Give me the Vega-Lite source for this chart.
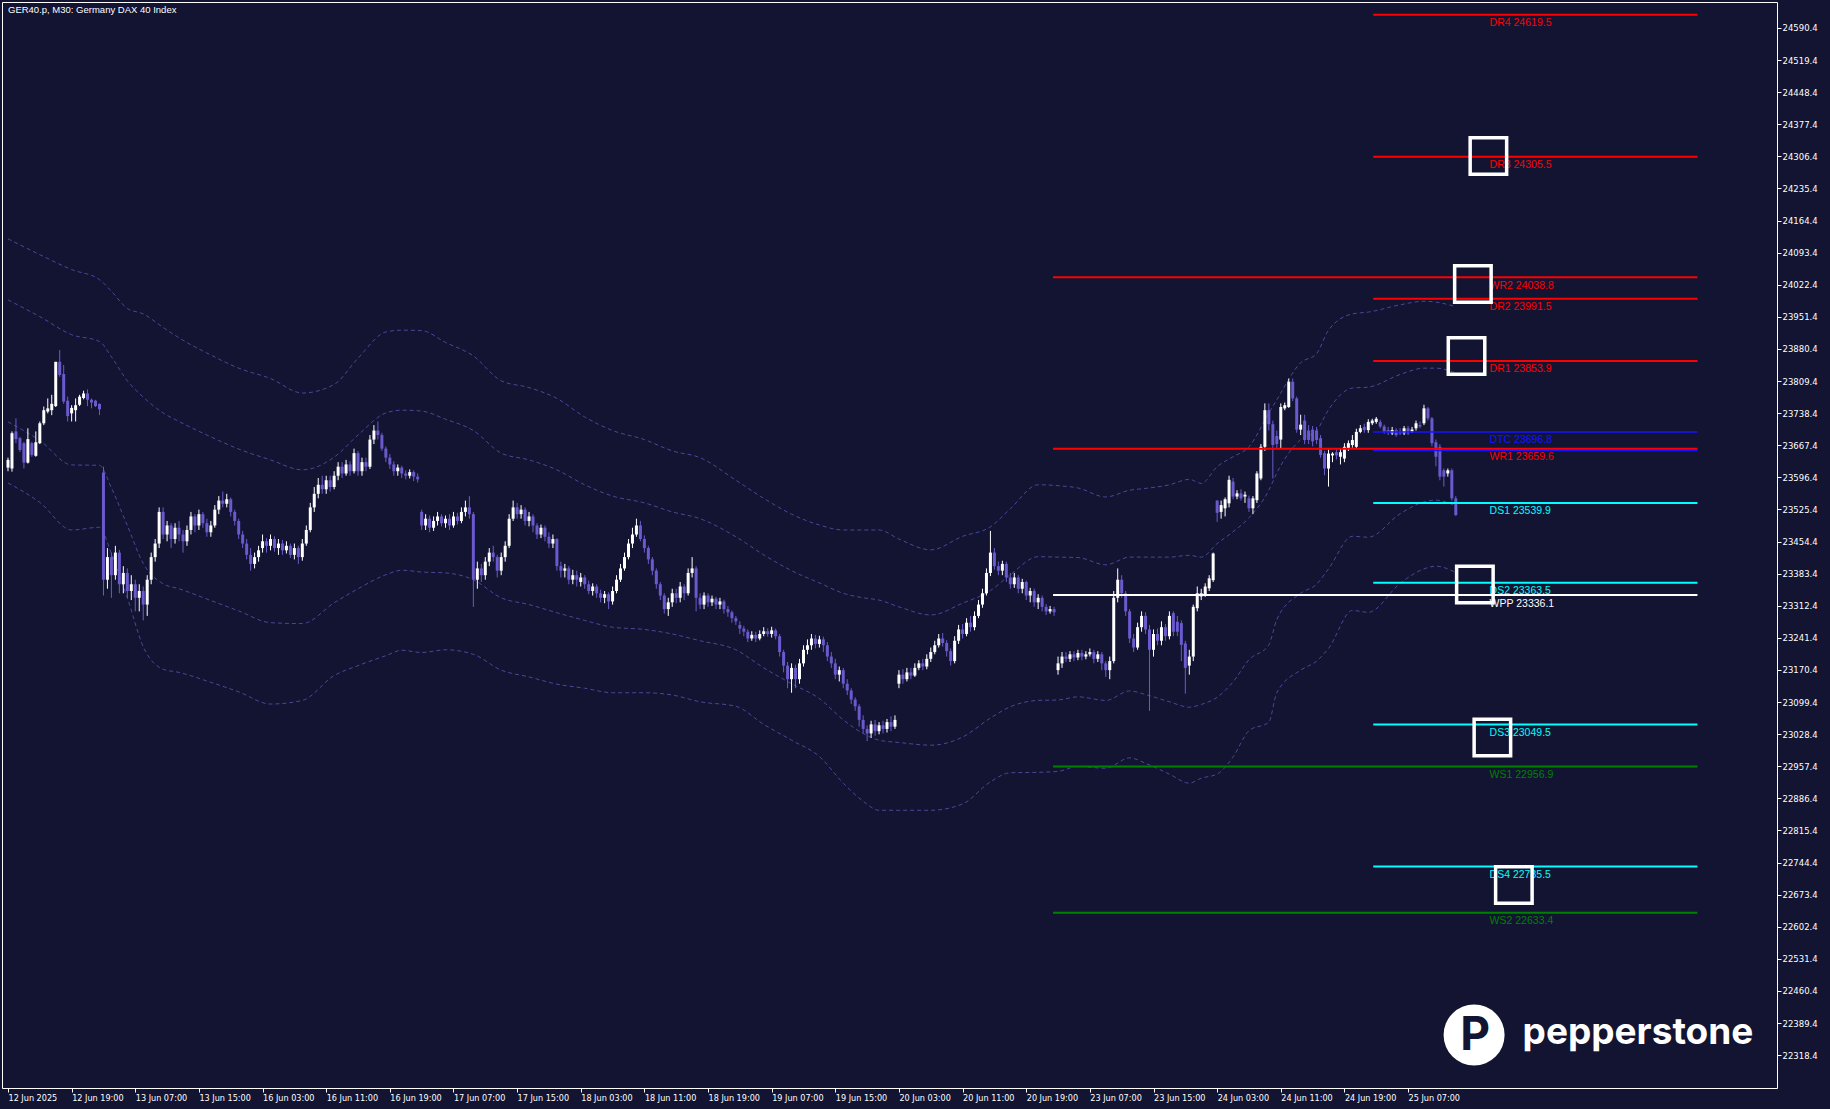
{
"$schema":"https://vega.github.io/schema/vega-lite/v6.json",
"width":1775,"height":1086,
"autosize":{"type":"none"},
"padding":{"left":2,"top":2,"right":53,"bottom":21},
"background":"#121432",
"config":{"view":{"stroke":"#ffffff","strokeWidth":1},"axis":{"labelColor":"#ffffff","tickColor":"#ffffff","domain":false,"grid":false,"title":null}},
"datasets":{
"candles":[
{"i":0,"o":23618,"h":23640,"l":23610,"c":23635},
{"i":1,"o":23616,"h":23698,"l":23609,"c":23694},
{"i":2,"o":23698,"h":23727,"l":23672,"c":23681},
{"i":3,"o":23683,"h":23686,"l":23653,"c":23657},
{"i":4,"o":23672,"h":23675,"l":23616,"c":23629},
{"i":5,"o":23629,"h":23705,"l":23627,"c":23681},
{"i":6,"o":23672,"h":23675,"l":23642,"c":23646},
{"i":7,"o":23644,"h":23698,"l":23642,"c":23674},
{"i":8,"o":23672,"h":23720,"l":23670,"c":23716},
{"i":9,"o":23716,"h":23753,"l":23712,"c":23745},
{"i":10,"o":23742,"h":23771,"l":23738,"c":23749},
{"i":11,"o":23745,"h":23779,"l":23734,"c":23759},
{"i":12,"o":23754,"h":23852,"l":23752,"c":23852},
{"i":13,"o":23852,"h":23878,"l":23819,"c":23823},
{"i":14,"o":23825,"h":23845,"l":23759,"c":23764},
{"i":15,"o":23766,"h":23775,"l":23720,"c":23732},
{"i":16,"o":23738,"h":23756,"l":23720,"c":23750},
{"i":17,"o":23745,"h":23771,"l":23720,"c":23756},
{"i":18,"o":23757,"h":23779,"l":23754,"c":23775},
{"i":19,"o":23772,"h":23788,"l":23769,"c":23782},
{"i":20,"o":23782,"h":23791,"l":23754,"c":23768},
{"i":21,"o":23768,"h":23771,"l":23749,"c":23762},
{"i":22,"o":23766,"h":23768,"l":23752,"c":23754},
{"i":23,"o":23759,"h":23760,"l":23734,"c":23747},
{"i":24,"o":23607,"h":23620,"l":23335,"c":23370},
{"i":25,"o":23370,"h":23440,"l":23350,"c":23420},
{"i":26,"o":23420,"h":23430,"l":23330,"c":23380},
{"i":27,"o":23380,"h":23445,"l":23370,"c":23430},
{"i":28,"o":23430,"h":23436,"l":23340,"c":23360},
{"i":29,"o":23360,"h":23400,"l":23340,"c":23385},
{"i":30,"o":23385,"h":23395,"l":23330,"c":23345},
{"i":31,"o":23345,"h":23380,"l":23325,"c":23360},
{"i":32,"o":23360,"h":23370,"l":23300,"c":23330},
{"i":33,"o":23330,"h":23360,"l":23300,"c":23345},
{"i":34,"o":23345,"h":23355,"l":23280,"c":23315},
{"i":35,"o":23315,"h":23380,"l":23290,"c":23370},
{"i":36,"o":23370,"h":23430,"l":23360,"c":23420},
{"i":37,"o":23420,"h":23460,"l":23410,"c":23450},
{"i":38,"o":23450,"h":23530,"l":23440,"c":23520},
{"i":39,"o":23520,"h":23530,"l":23460,"c":23470},
{"i":40,"o":23470,"h":23500,"l":23455,"c":23490},
{"i":41,"o":23490,"h":23495,"l":23440,"c":23460},
{"i":42,"o":23460,"h":23495,"l":23450,"c":23485},
{"i":43,"o":23485,"h":23500,"l":23455,"c":23470},
{"i":44,"o":23470,"h":23480,"l":23430,"c":23455},
{"i":45,"o":23455,"h":23490,"l":23445,"c":23480},
{"i":46,"o":23480,"h":23520,"l":23470,"c":23510},
{"i":47,"o":23510,"h":23515,"l":23475,"c":23490},
{"i":48,"o":23490,"h":23525,"l":23480,"c":23515},
{"i":49,"o":23515,"h":23520,"l":23485,"c":23495},
{"i":50,"o":23495,"h":23505,"l":23465,"c":23475},
{"i":51,"o":23475,"h":23500,"l":23465,"c":23490},
{"i":52,"o":23490,"h":23535,"l":23485,"c":23525},
{"i":53,"o":23525,"h":23555,"l":23515,"c":23545},
{"i":54,"o":23545,"h":23565,"l":23530,"c":23538},
{"i":55,"o":23538,"h":23560,"l":23530,"c":23548},
{"i":56,"o":23548,"h":23552,"l":23510,"c":23520},
{"i":57,"o":23520,"h":23525,"l":23490,"c":23500},
{"i":58,"o":23500,"h":23505,"l":23460,"c":23470},
{"i":59,"o":23470,"h":23478,"l":23440,"c":23450},
{"i":60,"o":23450,"h":23460,"l":23415,"c":23425},
{"i":61,"o":23425,"h":23440,"l":23390,"c":23405},
{"i":62,"o":23405,"h":23430,"l":23395,"c":23420},
{"i":63,"o":23420,"h":23445,"l":23410,"c":23435},
{"i":64,"o":23440,"h":23470,"l":23430,"c":23455},
{"i":65,"o":23455,"h":23462,"l":23430,"c":23445},
{"i":66,"o":23445,"h":23470,"l":23435,"c":23460},
{"i":67,"o":23460,"h":23466,"l":23432,"c":23440},
{"i":68,"o":23440,"h":23460,"l":23425,"c":23450},
{"i":69,"o":23450,"h":23458,"l":23425,"c":23435},
{"i":70,"o":23435,"h":23455,"l":23428,"c":23445},
{"i":71,"o":23445,"h":23450,"l":23418,"c":23425},
{"i":72,"o":23425,"h":23450,"l":23415,"c":23440},
{"i":73,"o":23440,"h":23445,"l":23405,"c":23420},
{"i":74,"o":23420,"h":23460,"l":23412,"c":23450},
{"i":75,"o":23450,"h":23490,"l":23445,"c":23480},
{"i":76,"o":23480,"h":23540,"l":23475,"c":23530},
{"i":77,"o":23530,"h":23575,"l":23520,"c":23560},
{"i":78,"o":23560,"h":23595,"l":23550,"c":23580},
{"i":79,"o":23580,"h":23600,"l":23560,"c":23570},
{"i":80,"o":23570,"h":23600,"l":23560,"c":23590},
{"i":81,"o":23590,"h":23600,"l":23565,"c":23575},
{"i":82,"o":23575,"h":23610,"l":23570,"c":23600},
{"i":83,"o":23600,"h":23630,"l":23590,"c":23620},
{"i":84,"o":23620,"h":23630,"l":23595,"c":23605},
{"i":85,"o":23605,"h":23635,"l":23600,"c":23625},
{"i":86,"o":23625,"h":23632,"l":23600,"c":23610},
{"i":87,"o":23610,"h":23660,"l":23605,"c":23650},
{"i":88,"o":23650,"h":23655,"l":23600,"c":23610},
{"i":89,"o":23610,"h":23640,"l":23600,"c":23630},
{"i":90,"o":23630,"h":23640,"l":23610,"c":23620},
{"i":91,"o":23620,"h":23690,"l":23615,"c":23680},
{"i":92,"o":23680,"h":23712,"l":23670,"c":23700},
{"i":93,"o":23700,"h":23720,"l":23680,"c":23690},
{"i":94,"o":23690,"h":23695,"l":23655,"c":23660},
{"i":95,"o":23660,"h":23665,"l":23630,"c":23640},
{"i":96,"o":23640,"h":23648,"l":23615,"c":23625},
{"i":97,"o":23625,"h":23632,"l":23600,"c":23610},
{"i":98,"o":23610,"h":23625,"l":23600,"c":23618},
{"i":99,"o":23618,"h":23622,"l":23595,"c":23605},
{"i":100,"o":23605,"h":23612,"l":23592,"c":23600},
{"i":101,"o":23600,"h":23614,"l":23594,"c":23608},
{"i":102,"o":23608,"h":23612,"l":23588,"c":23598},
{"i":103,"o":23598,"h":23605,"l":23585,"c":23592},
{"i":104,"o":23520,"h":23525,"l":23480,"c":23490},
{"i":105,"o":23490,"h":23515,"l":23480,"c":23505},
{"i":106,"o":23505,"h":23512,"l":23475,"c":23485},
{"i":107,"o":23485,"h":23510,"l":23478,"c":23500},
{"i":108,"o":23500,"h":23520,"l":23490,"c":23510},
{"i":109,"o":23510,"h":23515,"l":23488,"c":23495},
{"i":110,"o":23495,"h":23512,"l":23485,"c":23505},
{"i":111,"o":23505,"h":23515,"l":23480,"c":23490},
{"i":112,"o":23490,"h":23520,"l":23485,"c":23510},
{"i":113,"o":23510,"h":23518,"l":23492,"c":23500},
{"i":114,"o":23500,"h":23530,"l":23495,"c":23520},
{"i":115,"o":23520,"h":23545,"l":23510,"c":23530},
{"i":116,"o":23530,"h":23555,"l":23505,"c":23515},
{"i":117,"o":23515,"h":23520,"l":23310,"c":23370},
{"i":118,"o":23370,"h":23410,"l":23350,"c":23395},
{"i":119,"o":23395,"h":23405,"l":23365,"c":23380},
{"i":120,"o":23380,"h":23420,"l":23370,"c":23410},
{"i":121,"o":23410,"h":23440,"l":23400,"c":23430},
{"i":122,"o":23430,"h":23445,"l":23410,"c":23420},
{"i":123,"o":23420,"h":23425,"l":23375,"c":23390},
{"i":124,"o":23390,"h":23430,"l":23380,"c":23420},
{"i":125,"o":23420,"h":23455,"l":23410,"c":23445},
{"i":126,"o":23445,"h":23515,"l":23440,"c":23505},
{"i":127,"o":23505,"h":23545,"l":23500,"c":23530},
{"i":128,"o":23530,"h":23540,"l":23505,"c":23515},
{"i":129,"o":23515,"h":23535,"l":23505,"c":23525},
{"i":130,"o":23525,"h":23530,"l":23490,"c":23500},
{"i":131,"o":23500,"h":23520,"l":23488,"c":23510},
{"i":132,"o":23510,"h":23515,"l":23475,"c":23490},
{"i":133,"o":23490,"h":23495,"l":23460,"c":23470},
{"i":134,"o":23470,"h":23492,"l":23462,"c":23485},
{"i":135,"o":23485,"h":23490,"l":23455,"c":23465},
{"i":136,"o":23465,"h":23475,"l":23440,"c":23450},
{"i":137,"o":23450,"h":23470,"l":23440,"c":23460},
{"i":138,"o":23460,"h":23462,"l":23390,"c":23400},
{"i":139,"o":23400,"h":23410,"l":23375,"c":23390},
{"i":140,"o":23390,"h":23405,"l":23375,"c":23395},
{"i":141,"o":23395,"h":23400,"l":23360,"c":23370},
{"i":142,"o":23370,"h":23392,"l":23360,"c":23380},
{"i":143,"o":23380,"h":23390,"l":23355,"c":23370},
{"i":144,"o":23365,"h":23385,"l":23355,"c":23375},
{"i":145,"o":23375,"h":23380,"l":23350,"c":23360},
{"i":146,"o":23360,"h":23368,"l":23338,"c":23345},
{"i":147,"o":23345,"h":23362,"l":23335,"c":23355},
{"i":148,"o":23355,"h":23360,"l":23330,"c":23340},
{"i":149,"o":23340,"h":23348,"l":23320,"c":23330},
{"i":150,"o":23330,"h":23345,"l":23318,"c":23338},
{"i":151,"o":23338,"h":23342,"l":23305,"c":23322},
{"i":152,"o":23322,"h":23355,"l":23315,"c":23345},
{"i":153,"o":23345,"h":23380,"l":23340,"c":23370},
{"i":154,"o":23370,"h":23405,"l":23365,"c":23395},
{"i":155,"o":23395,"h":23430,"l":23390,"c":23420},
{"i":156,"o":23420,"h":23460,"l":23415,"c":23450},
{"i":157,"o":23450,"h":23485,"l":23440,"c":23470},
{"i":158,"o":23470,"h":23505,"l":23465,"c":23490},
{"i":159,"o":23490,"h":23500,"l":23455,"c":23460},
{"i":160,"o":23460,"h":23468,"l":23430,"c":23440},
{"i":161,"o":23440,"h":23445,"l":23405,"c":23415},
{"i":162,"o":23415,"h":23420,"l":23380,"c":23390},
{"i":163,"o":23390,"h":23395,"l":23350,"c":23360},
{"i":164,"o":23360,"h":23365,"l":23325,"c":23335},
{"i":165,"o":23335,"h":23340,"l":23295,"c":23305},
{"i":166,"o":23305,"h":23330,"l":23290,"c":23320},
{"i":167,"o":23320,"h":23350,"l":23310,"c":23340},
{"i":168,"o":23340,"h":23350,"l":23318,"c":23330},
{"i":169,"o":23330,"h":23365,"l":23320,"c":23355},
{"i":170,"o":23355,"h":23360,"l":23325,"c":23340},
{"i":171,"o":23340,"h":23395,"l":23335,"c":23385},
{"i":172,"o":23385,"h":23420,"l":23375,"c":23395},
{"i":173,"o":23395,"h":23400,"l":23300,"c":23330},
{"i":174,"o":23330,"h":23340,"l":23305,"c":23315},
{"i":175,"o":23315,"h":23342,"l":23305,"c":23335},
{"i":176,"o":23335,"h":23340,"l":23310,"c":23320},
{"i":177,"o":23320,"h":23335,"l":23312,"c":23328},
{"i":178,"o":23328,"h":23332,"l":23305,"c":23315},
{"i":179,"o":23315,"h":23330,"l":23305,"c":23322},
{"i":180,"o":23322,"h":23326,"l":23295,"c":23305},
{"i":181,"o":23305,"h":23312,"l":23288,"c":23298},
{"i":182,"o":23298,"h":23302,"l":23275,"c":23285},
{"i":183,"o":23285,"h":23290,"l":23270,"c":23278},
{"i":184,"o":23270,"h":23278,"l":23250,"c":23262},
{"i":185,"o":23262,"h":23268,"l":23245,"c":23255},
{"i":186,"o":23255,"h":23260,"l":23232,"c":23240},
{"i":187,"o":23240,"h":23256,"l":23235,"c":23248},
{"i":188,"o":23248,"h":23255,"l":23232,"c":23240},
{"i":189,"o":23240,"h":23258,"l":23236,"c":23250},
{"i":190,"o":23250,"h":23265,"l":23245,"c":23256},
{"i":191,"o":23256,"h":23262,"l":23244,"c":23250},
{"i":192,"o":23250,"h":23266,"l":23242,"c":23258},
{"i":193,"o":23258,"h":23262,"l":23238,"c":23245},
{"i":194,"o":23245,"h":23250,"l":23200,"c":23210},
{"i":195,"o":23210,"h":23215,"l":23165,"c":23180},
{"i":196,"o":23180,"h":23188,"l":23130,"c":23150},
{"i":197,"o":23150,"h":23185,"l":23120,"c":23175},
{"i":198,"o":23175,"h":23182,"l":23130,"c":23150},
{"i":199,"o":23150,"h":23195,"l":23140,"c":23185},
{"i":200,"o":23185,"h":23225,"l":23178,"c":23215},
{"i":201,"o":23215,"h":23238,"l":23205,"c":23225},
{"i":202,"o":23225,"h":23250,"l":23215,"c":23240},
{"i":203,"o":23240,"h":23248,"l":23218,"c":23228},
{"i":204,"o":23228,"h":23246,"l":23220,"c":23238},
{"i":205,"o":23238,"h":23244,"l":23210,"c":23225},
{"i":206,"o":23225,"h":23232,"l":23190,"c":23200},
{"i":207,"o":23200,"h":23210,"l":23175,"c":23185},
{"i":208,"o":23185,"h":23195,"l":23150,"c":23160},
{"i":209,"o":23160,"h":23178,"l":23145,"c":23170},
{"i":210,"o":23170,"h":23175,"l":23130,"c":23140},
{"i":211,"o":23140,"h":23150,"l":23115,"c":23125},
{"i":212,"o":23125,"h":23130,"l":23095,"c":23105},
{"i":213,"o":23105,"h":23110,"l":23080,"c":23090},
{"i":214,"o":23090,"h":23095,"l":23045,"c":23060},
{"i":215,"o":23060,"h":23070,"l":23030,"c":23040},
{"i":216,"o":23040,"h":23048,"l":23013,"c":23030},
{"i":217,"o":23030,"h":23058,"l":23020,"c":23050},
{"i":218,"o":23050,"h":23060,"l":23025,"c":23035},
{"i":219,"o":23035,"h":23055,"l":23028,"c":23048},
{"i":220,"o":23048,"h":23058,"l":23030,"c":23040},
{"i":221,"o":23040,"h":23062,"l":23032,"c":23055},
{"i":222,"o":23055,"h":23068,"l":23035,"c":23045},
{"i":223,"o":23045,"h":23070,"l":23040,"c":23060},
{"i":224,"o":23140,"h":23170,"l":23130,"c":23160},
{"i":225,"o":23160,"h":23172,"l":23140,"c":23150},
{"i":226,"o":23150,"h":23175,"l":23145,"c":23165},
{"i":227,"o":23165,"h":23175,"l":23150,"c":23158},
{"i":228,"o":23158,"h":23185,"l":23155,"c":23175},
{"i":229,"o":23175,"h":23192,"l":23170,"c":23185},
{"i":230,"o":23185,"h":23195,"l":23170,"c":23178},
{"i":231,"o":23178,"h":23205,"l":23172,"c":23195},
{"i":232,"o":23195,"h":23220,"l":23188,"c":23210},
{"i":233,"o":23210,"h":23235,"l":23205,"c":23225},
{"i":234,"o":23225,"h":23250,"l":23220,"c":23240},
{"i":235,"o":23240,"h":23252,"l":23222,"c":23230},
{"i":236,"o":23230,"h":23236,"l":23200,"c":23212},
{"i":237,"o":23212,"h":23218,"l":23180,"c":23190},
{"i":238,"o":23190,"h":23245,"l":23185,"c":23235},
{"i":239,"o":23235,"h":23270,"l":23228,"c":23260},
{"i":240,"o":23260,"h":23272,"l":23240,"c":23250},
{"i":241,"o":23250,"h":23285,"l":23245,"c":23275},
{"i":242,"o":23275,"h":23290,"l":23255,"c":23265},
{"i":243,"o":23265,"h":23300,"l":23258,"c":23290},
{"i":244,"o":23290,"h":23325,"l":23285,"c":23315},
{"i":245,"o":23315,"h":23350,"l":23308,"c":23340},
{"i":246,"o":23340,"h":23395,"l":23335,"c":23385},
{"i":247,"o":23385,"h":23478,"l":23378,"c":23430},
{"i":248,"o":23430,"h":23440,"l":23392,"c":23400},
{"i":249,"o":23400,"h":23410,"l":23380,"c":23390},
{"i":250,"o":23390,"h":23412,"l":23380,"c":23405},
{"i":251,"o":23405,"h":23410,"l":23365,"c":23375},
{"i":252,"o":23375,"h":23385,"l":23350,"c":23360},
{"i":253,"o":23360,"h":23385,"l":23352,"c":23375},
{"i":254,"o":23375,"h":23380,"l":23340,"c":23350},
{"i":255,"o":23350,"h":23372,"l":23340,"c":23365},
{"i":256,"o":23365,"h":23368,"l":23325,"c":23335},
{"i":257,"o":23335,"h":23352,"l":23320,"c":23345},
{"i":258,"o":23345,"h":23350,"l":23310,"c":23320},
{"i":259,"o":23320,"h":23338,"l":23305,"c":23330},
{"i":260,"o":23330,"h":23335,"l":23300,"c":23310},
{"i":261,"o":23310,"h":23316,"l":23292,"c":23300},
{"i":262,"o":23300,"h":23312,"l":23295,"c":23305},
{"i":263,"o":23305,"h":23310,"l":23290,"c":23298},
{"i":264,"o":23170,"h":23200,"l":23160,"c":23185},
{"i":265,"o":23185,"h":23210,"l":23175,"c":23200},
{"i":266,"o":23200,"h":23210,"l":23188,"c":23195},
{"i":267,"o":23195,"h":23212,"l":23188,"c":23205},
{"i":268,"o":23205,"h":23212,"l":23190,"c":23198},
{"i":269,"o":23198,"h":23215,"l":23192,"c":23208},
{"i":270,"o":23208,"h":23215,"l":23192,"c":23200},
{"i":271,"o":23200,"h":23212,"l":23194,"c":23205},
{"i":272,"o":23205,"h":23218,"l":23200,"c":23210},
{"i":273,"o":23210,"h":23215,"l":23185,"c":23195},
{"i":274,"o":23195,"h":23212,"l":23188,"c":23205},
{"i":275,"o":23205,"h":23210,"l":23170,"c":23185},
{"i":276,"o":23185,"h":23190,"l":23155,"c":23170},
{"i":277,"o":23170,"h":23200,"l":23150,"c":23190},
{"i":278,"o":23190,"h":23345,"l":23185,"c":23330},
{"i":279,"o":23330,"h":23395,"l":23320,"c":23370},
{"i":280,"o":23370,"h":23380,"l":23330,"c":23340},
{"i":281,"o":23340,"h":23345,"l":23290,"c":23300},
{"i":282,"o":23300,"h":23305,"l":23230,"c":23240},
{"i":283,"o":23240,"h":23250,"l":23210,"c":23220},
{"i":284,"o":23220,"h":23275,"l":23215,"c":23265},
{"i":285,"o":23265,"h":23300,"l":23255,"c":23290},
{"i":286,"o":23290,"h":23298,"l":23250,"c":23260},
{"i":287,"o":23260,"h":23270,"l":23080,"c":23215},
{"i":288,"o":23215,"h":23260,"l":23200,"c":23250},
{"i":289,"o":23250,"h":23262,"l":23225,"c":23235},
{"i":290,"o":23235,"h":23278,"l":23225,"c":23265},
{"i":291,"o":23265,"h":23272,"l":23235,"c":23245},
{"i":292,"o":23245,"h":23300,"l":23238,"c":23290},
{"i":293,"o":23296,"h":23300,"l":23245,"c":23255},
{"i":294,"o":23277,"h":23290,"l":23245,"c":23255},
{"i":295,"o":23274,"h":23280,"l":23190,"c":23226},
{"i":296,"o":23229,"h":23235,"l":23118,"c":23175},
{"i":297,"o":23180,"h":23215,"l":23160,"c":23200},
{"i":298,"o":23200,"h":23315,"l":23190,"c":23310},
{"i":299,"o":23307,"h":23355,"l":23300,"c":23340},
{"i":300,"o":23333,"h":23350,"l":23325,"c":23340},
{"i":301,"o":23336,"h":23362,"l":23332,"c":23355},
{"i":302,"o":23351,"h":23380,"l":23345,"c":23373},
{"i":303,"o":23369,"h":23430,"l":23365,"c":23428},
{"i":304,"o":23545,"h":23546,"l":23498,"c":23518},
{"i":305,"o":23520,"h":23545,"l":23505,"c":23535},
{"i":306,"o":23528,"h":23552,"l":23510,"c":23548},
{"i":307,"o":23539,"h":23600,"l":23530,"c":23591},
{"i":308,"o":23587,"h":23595,"l":23548,"c":23554},
{"i":309,"o":23554,"h":23568,"l":23548,"c":23561},
{"i":310,"o":23561,"h":23570,"l":23545,"c":23550},
{"i":311,"o":23554,"h":23565,"l":23540,"c":23558},
{"i":312,"o":23550,"h":23556,"l":23520,"c":23528},
{"i":313,"o":23528,"h":23555,"l":23515,"c":23550},
{"i":314,"o":23546,"h":23610,"l":23540,"c":23605},
{"i":315,"o":23594,"h":23670,"l":23590,"c":23664},
{"i":316,"o":23664,"h":23760,"l":23655,"c":23745},
{"i":317,"o":23745,"h":23760,"l":23700,"c":23714},
{"i":318,"o":23714,"h":23722,"l":23594,"c":23668},
{"i":319,"o":23688,"h":23700,"l":23660,"c":23670},
{"i":320,"o":23680,"h":23760,"l":23660,"c":23752},
{"i":321,"o":23749,"h":23762,"l":23745,"c":23756},
{"i":322,"o":23752,"h":23815,"l":23750,"c":23808},
{"i":323,"o":23808,"h":23815,"l":23765,"c":23771},
{"i":324,"o":23771,"h":23775,"l":23695,"c":23702},
{"i":325,"o":23702,"h":23735,"l":23690,"c":23713},
{"i":326,"o":23722,"h":23735,"l":23670,"c":23679},
{"i":327,"o":23700,"h":23712,"l":23670,"c":23679},
{"i":328,"o":23702,"h":23710,"l":23665,"c":23676},
{"i":329,"o":23700,"h":23708,"l":23670,"c":23679},
{"i":330,"o":23683,"h":23690,"l":23640,"c":23646},
{"i":331,"o":23650,"h":23655,"l":23601,"c":23616},
{"i":332,"o":23616,"h":23658,"l":23576,"c":23649},
{"i":333,"o":23645,"h":23652,"l":23630,"c":23649},
{"i":334,"o":23652,"h":23660,"l":23636,"c":23645},
{"i":335,"o":23642,"h":23660,"l":23625,"c":23652},
{"i":336,"o":23638,"h":23672,"l":23630,"c":23664},
{"i":337,"o":23661,"h":23678,"l":23655,"c":23672},
{"i":338,"o":23668,"h":23690,"l":23662,"c":23679},
{"i":339,"o":23664,"h":23704,"l":23660,"c":23697},
{"i":340,"o":23697,"h":23712,"l":23694,"c":23705},
{"i":341,"o":23708,"h":23715,"l":23695,"c":23701},
{"i":342,"o":23701,"h":23725,"l":23695,"c":23719},
{"i":343,"o":23716,"h":23726,"l":23712,"c":23722},
{"i":344,"o":23719,"h":23730,"l":23715,"c":23726},
{"i":345,"o":23719,"h":23724,"l":23705,"c":23709},
{"i":346,"o":23709,"h":23713,"l":23693,"c":23697},
{"i":347,"o":23701,"h":23708,"l":23690,"c":23697},
{"i":348,"o":23694,"h":23708,"l":23690,"c":23701},
{"i":349,"o":23701,"h":23705,"l":23686,"c":23690},
{"i":350,"o":23698,"h":23705,"l":23690,"c":23694},
{"i":351,"o":23694,"h":23710,"l":23690,"c":23705},
{"i":352,"o":23705,"h":23710,"l":23690,"c":23694},
{"i":353,"o":23698,"h":23708,"l":23695,"c":23702},
{"i":354,"o":23705,"h":23722,"l":23700,"c":23716},
{"i":355,"o":23712,"h":23720,"l":23705,"c":23709},
{"i":356,"o":23716,"h":23757,"l":23712,"c":23749},
{"i":357,"o":23749,"h":23752,"l":23722,"c":23727},
{"i":358,"o":23727,"h":23730,"l":23665,"c":23672},
{"i":359,"o":23674,"h":23680,"l":23621,"c":23642},
{"i":360,"o":23664,"h":23670,"l":23590,"c":23598},
{"i":361,"o":23612,"h":23616,"l":23576,"c":23598},
{"i":362,"o":23605,"h":23616,"l":23598,"c":23612},
{"i":363,"o":23612,"h":23616,"l":23545,"c":23550},
{"i":364,"o":23550,"h":23555,"l":23511,"c":23513}
],
"bands":[
{"i":0,"u2":24124,"u1":23989,"l1":23719,"l2":23584},
{"i":8,"u2":24089,"u1":23952,"l1":23678,"l2":23541},
{"i":16,"u2":24056,"u1":23912,"l1":23624,"l2":23480},
{"i":23,"u2":24034,"u1":23897,"l1":23623,"l2":23486},
{"i":26,"u2":24008,"u1":23863,"l1":23573,"l2":23428},
{"i":30,"u2":23970,"u1":23810,"l1":23490,"l2":23330},
{"i":34,"u2":23958,"u1":23774,"l1":23406,"l2":23222},
{"i":39,"u2":23928,"u1":23739,"l1":23361,"l2":23172},
{"i":43,"u2":23905,"u1":23720,"l1":23350,"l2":23165},
{"i":51,"u2":23867,"u1":23686,"l1":23324,"l2":23143},
{"i":58,"u2":23838,"u1":23659,"l1":23301,"l2":23122},
{"i":66,"u2":23815,"u1":23635,"l1":23275,"l2":23095},
{"i":74,"u2":23783,"u1":23613,"l1":23273,"l2":23103},
{"i":82,"u2":23802,"u1":23641,"l1":23319,"l2":23158},
{"i":88,"u2":23860,"u1":23690,"l1":23350,"l2":23180},
{"i":95,"u2":23918,"u1":23739,"l1":23381,"l2":23202},
{"i":99,"u2":23922,"u1":23745,"l1":23391,"l2":23214},
{"i":104,"u2":23921,"u1":23743,"l1":23387,"l2":23209},
{"i":110,"u2":23895,"u1":23725,"l1":23385,"l2":23215},
{"i":117,"u2":23865,"u1":23700,"l1":23370,"l2":23205},
{"i":124,"u2":23810,"u1":23650,"l1":23330,"l2":23170},
{"i":131,"u2":23795,"u1":23635,"l1":23315,"l2":23155},
{"i":138,"u2":23771,"u1":23613,"l1":23297,"l2":23139},
{"i":145,"u2":23730,"u1":23580,"l1":23280,"l2":23130},
{"i":152,"u2":23700,"u1":23555,"l1":23265,"l2":23120},
{"i":160,"u2":23680,"u1":23540,"l1":23260,"l2":23120},
{"i":167,"u2":23655,"u1":23520,"l1":23250,"l2":23115},
{"i":174,"u2":23640,"u1":23505,"l1":23235,"l2":23100},
{"i":183,"u2":23590,"u1":23465,"l1":23215,"l2":23090},
{"i":190,"u2":23550,"u1":23425,"l1":23175,"l2":23050},
{"i":197,"u2":23515,"u1":23390,"l1":23140,"l2":23015},
{"i":204,"u2":23491,"u1":23363,"l1":23107,"l2":22979},
{"i":210,"u2":23480,"u1":23340,"l1":23060,"l2":22920},
{"i":215,"u2":23480,"u1":23330,"l1":23030,"l2":22880},
{"i":219,"u2":23480,"u1":23325,"l1":23015,"l2":22860},
{"i":224,"u2":23460,"u1":23310,"l1":23010,"l2":22860},
{"i":232,"u2":23436,"u1":23292,"l1":23004,"l2":22860},
{"i":240,"u2":23466,"u1":23318,"l1":23022,"l2":22874},
{"i":247,"u2":23487,"u1":23346,"l1":23064,"l2":22923},
{"i":252,"u2":23527,"u1":23381,"l1":23089,"l2":22943},
{"i":259,"u2":23580,"u1":23421,"l1":23103,"l2":22944},
{"i":264,"u2":23578,"u1":23420,"l1":23104,"l2":22946},
{"i":269,"u2":23573,"u1":23419,"l1":23111,"l2":22957},
{"i":276,"u2":23553,"u1":23403,"l1":23103,"l2":22953},
{"i":282,"u2":23568,"u1":23420,"l1":23124,"l2":22976},
{"i":286,"u2":23572,"u1":23420,"l1":23116,"l2":22964},
{"i":292,"u2":23580,"u1":23420,"l1":23100,"l2":22940},
{"i":297,"u2":23592,"u1":23424,"l1":23088,"l2":22920},
{"i":300,"u2":23583,"u1":23420,"l1":23094,"l2":22931},
{"i":304,"u2":23620,"u1":23450,"l1":23110,"l2":22940},
{"i":308,"u2":23642,"u1":23476,"l1":23144,"l2":22978},
{"i":312,"u2":23664,"u1":23507,"l1":23193,"l2":23036},
{"i":317,"u2":23739,"u1":23568,"l1":23226,"l2":23055},
{"i":319,"u2":23768,"u1":23606,"l1":23282,"l2":23120},
{"i":325,"u2":23850,"u1":23680,"l1":23340,"l2":23170},
{"i":329,"u2":23870,"u1":23700,"l1":23360,"l2":23190},
{"i":332,"u2":23922,"u1":23746,"l1":23394,"l2":23218},
{"i":338,"u2":23958,"u1":23794,"l1":23466,"l2":23302},
{"i":342,"u2":23962,"u1":23796,"l1":23464,"l2":23298},
{"i":350,"u2":23978,"u1":23824,"l1":23516,"l2":23362},
{"i":356,"u2":23986,"u1":23838,"l1":23542,"l2":23394},
{"i":359,"u2":23984,"u1":23838,"l1":23546,"l2":23400},
{"i":364,"u2":23974,"u1":23827,"l1":23533,"l2":23386}
],
"levels":[
{"name":"DR4","v":24619.5,"kind":"res","from":343.25,"to":424.75},
{"name":"DR3","v":24305.5,"kind":"res","from":343.25,"to":424.75},
{"name":"WR2","v":24038.8,"kind":"res","from":262.75,"to":424.75},
{"name":"DR2","v":23991.5,"kind":"res","from":343.25,"to":424.75},
{"name":"DR1","v":23853.9,"kind":"res","from":343.25,"to":424.75},
{"name":"DTC","v":23696.8,"kind":"dtc","from":343.25,"to":424.75},
{"name":"","v":23655.5,"kind":"dtc","from":343.25,"to":424.75},
{"name":"WR1","v":23659.6,"kind":"res","from":262.75,"to":424.75},
{"name":"DS1","v":23539.9,"kind":"sup","from":343.25,"to":424.75},
{"name":"DS2","v":23363.5,"kind":"sup","from":343.25,"to":424.75},
{"name":"WPP","v":23336.1,"kind":"pp","from":262.75,"to":424.75},
{"name":"DS3","v":23049.5,"kind":"sup","from":343.25,"to":424.75},
{"name":"WS1","v":22956.9,"kind":"wsup","from":262.75,"to":424.75},
{"name":"DS4","v":22735.5,"kind":"sup","from":343.25,"to":424.75},
{"name":"WS2","v":22633.4,"kind":"wsup","from":262.75,"to":424.75}
],
"boxes":[
{"i":372.2,"v":24307.3},{"i":368.3,"v":24024.1},{"i":366.7,"v":23864.9},{"i":368.8,"v":23359.4},{"i":373.2,"v":23021.0},{"i":378.6,"v":22694.7}
]
},
"layer":[
{"data":{"name":"bands"},"transform":[{"fold":["u2","u1","l1","l2"],"as":["b","v"]}],
 "mark":{"type":"line","strokeDash":[4,3],"strokeWidth":1,"color":"#4a4799","interpolate":"monotone"},
 "encoding":{
  "x":{"field":"i","type":"quantitative","scale":{"domain":[-0.25,443.5],"nice":false,"zero":false},
   "axis":{"orient":"bottom","values":[0,16,32,48,64,80,96,112,128,144,160,176,192,208,224,240,256,272,288,304,320,336,352],
    "labelExpr":"['12 Jun 2025','12 Jun 19:00','13 Jun 07:00','13 Jun 15:00','16 Jun 03:00','16 Jun 11:00','16 Jun 19:00','17 Jun 07:00','17 Jun 15:00','18 Jun 03:00','18 Jun 11:00','18 Jun 19:00','19 Jun 07:00','19 Jun 15:00','20 Jun 03:00','20 Jun 11:00','20 Jun 19:00','23 Jun 07:00','23 Jun 15:00','24 Jun 03:00','24 Jun 11:00','24 Jun 19:00','25 Jun 07:00'][round(datum.value/16)]",
    "labelAlign":"left","labelDx":-3,"labelFont":"DejaVu Sans Condensed, Liberation Sans Narrow, Liberation Sans","labelFontSize":9,"tickSize":4,"tickCount":40,"labelPadding":1,"labelOverlap":false,"labelFlush":false}},
  "y":{"field":"v","type":"quantitative","scale":{"domain":[22245.7,24647.9],"nice":false,"zero":false},
   "axis":{"orient":"right","values":[22318.4,22389.4,22460.4,22531.4,22602.4,22673.4,22744.4,22815.4,22886.4,22957.4,23028.4,23099.4,23170.4,23241.4,23312.4,23383.4,23454.4,23525.4,23596.4,23667.4,23738.4,23809.4,23880.4,23951.4,24022.4,24093.4,24164.4,24235.4,24306.4,24377.4,24448.4,24519.4,24590.4],
    "format":".1f","labelFont":"DejaVu Sans","labelFontSize":8.5,"tickSize":4,"tickCount":60,"labelPadding":1,"labelOverlap":false,"labelFlush":false}},
  "detail":{"field":"b"}}},
{"data":{"name":"candles"},"mark":{"type":"rule","strokeWidth":1},
 "encoding":{"x":{"field":"i","type":"quantitative"},"y":{"field":"l","type":"quantitative"},"y2":{"field":"h"},
  "color":{"condition":{"test":"datum.c>=datum.o","value":"#ffffff"},"value":"#6a5acd"}}},
{"data":{"name":"candles"},"mark":{"type":"bar","size":3},
 "encoding":{"x":{"field":"i","type":"quantitative"},"y":{"field":"o","type":"quantitative"},"y2":{"field":"c"},
  "color":{"condition":{"test":"datum.c>=datum.o","value":"#ffffff"},"value":"#6a5acd"}}},
{"data":{"name":"levels"},"transform":[{"filter":"datum.kind!='dtc'"}],"mark":{"type":"rule","strokeWidth":2},
 "encoding":{"x":{"field":"from","type":"quantitative"},"x2":{"field":"to"},"y":{"field":"v","type":"quantitative"},
  "color":{"field":"kind","type":"nominal","scale":{"domain":["res","dtc","sup","pp","wsup"],"range":["#ff0000","#1414ff","#00ffff","#ffffff","#008000"]},"legend":null}}},
{"data":{"name":"levels"},"transform":[{"filter":"datum.kind=='dtc'"}],"mark":{"type":"rule","strokeWidth":1.3},
 "encoding":{"x":{"field":"from","type":"quantitative"},"x2":{"field":"to"},"y":{"field":"v","type":"quantitative"},
  "color":{"field":"kind","type":"nominal","legend":null}}},
{"data":{"name":"levels"},"transform":[{"filter":"datum.name!=''"},{"calculate":"datum.name+' '+format(datum.v,'.1f')","as":"t"}],
 "mark":{"type":"text","align":"left","baseline":"alphabetic","dy":11.5,"font":"Liberation Sans","fontSize":10.5},
 "encoding":{"x":{"datum":372.5,"type":"quantitative"},"y":{"field":"v","type":"quantitative"},"text":{"field":"t"},
  "color":{"field":"kind","type":"nominal","legend":null}}},
{"data":{"name":"boxes"},"mark":{"type":"point","shape":"square","filled":false,"stroke":"#ffffff","strokeWidth":3.5,"size":1332,"opacity":1},
 "encoding":{"x":{"field":"i","type":"quantitative"},"y":{"field":"v","type":"quantitative"}}},
{"data":{"values":[{"t":"GER40.p, M30:  Germany DAX 40 Index"}]},"mark":{"type":"text","align":"left","baseline":"middle","font":"Liberation Sans","fontSize":9.5,"color":"#ffffff"},
 "encoding":{"x":{"datum":0,"type":"quantitative"},"y":{"datum":24630,"type":"quantitative"},"text":{"field":"t"}}},
{"data":{"values":[{"t":"P"}]},"mark":{"type":"point","shape":"circle","filled":true,"color":"#ffffff","size":3721,"opacity":1},
 "encoding":{"x":{"datum":368.6,"type":"quantitative"},"y":{"datum":22363,"type":"quantitative"}}},
{"data":{"values":[{"t":"P"}]},"mark":{"type":"text","align":"center","baseline":"middle","font":"Inter","fontWeight":"bold","fontSize":46,"color":"#121432"},
 "encoding":{"x":{"datum":368.9,"type":"quantitative"},"y":{"datum":22360,"type":"quantitative"},"text":{"field":"t"}}},
{"data":{"values":[{"t":"pepperstone"}]},"mark":{"type":"text","align":"center","baseline":"middle","font":"Inter","fontWeight":"bold","fontSize":37,"color":"#ffffff"},
 "encoding":{"x":{"datum":409.8,"type":"quantitative"},"y":{"datum":22367,"type":"quantitative"},"text":{"field":"t"}}}
]
}
